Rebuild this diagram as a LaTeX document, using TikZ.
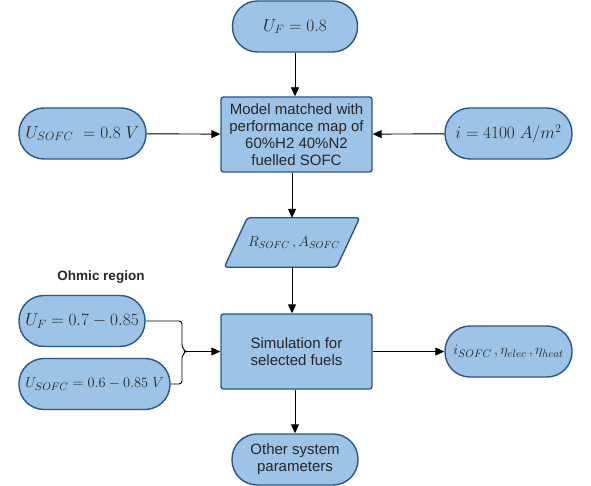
\documentclass[tikz,border=0pt]{standalone}
\usepackage{fontspec}
\setmainfont{Liberation Sans}
\usetikzlibrary{arrows.meta,calc}
\definecolor{boxfill}{HTML}{9DC3E6}
\definecolor{boxline}{HTML}{2A5783}
\definecolor{txt}{HTML}{262626}
\tikzset{
  base/.style={fill=boxfill,draw=boxline,line width=1.4pt,inner sep=0pt,align=center,
    text=txt,font=\fontsize{15}{17}\selectfont},
  mth/.style={font=\fontsize{16.5}{19}\selectfont},
  stadium/.style={base,rounded corners=25pt,minimum width=#1,minimum height=51pt},
  procbox/.style={base,rounded corners=2.5pt,minimum width=151pt,minimum height=75pt},
  arr/.style={line width=0.9pt,-{Triangle[length=9pt,width=8pt]}},
  conn/.style={line width=0.9pt},
  plain/.style={inner sep=0pt,minimum width=112pt,minimum height=49pt}
}
\begin{document}
\begin{tikzpicture}[x=1pt,y=-1pt]
\useasboundingbox (0,0) rectangle (591,486);
\node[stadium=125pt,mth] (uf) at (295,26.5) {$U_F=0.8$};
\node[procbox] (model) at (296.5,134.5) {Model matched with\\performance map of\\60\%H2 40\%N2\\fuelled SOFC};
\node[stadium=127pt,mth] (usofc) at (82.5,133.5) {$U_{SOFC}\;=0.8\;V$};
\node[stadium=127pt,mth] (iden) at (508.5,133.5) {$i=4100\;A/m^2$};
% parallelogram
\node[plain] (param) at (292,242.5) {};
\draw[base,rounded corners=3pt] ($(param.north west)+(11.5,0)$) -- ($(param.north east)+(11.5,0)$)
  -- ($(param.south east)+(-11.5,0)$) -- ($(param.south west)+(-11.5,0)$) -- cycle;
\node[font=\fontsize{14.5}{17}\selectfont,text=txt] at ([xshift=2pt]param) {$R_{SOFC}\,,A_{SOFC}$};
\node[font=\bfseries\fontsize{13.5}{16}\selectfont,text=txt] (ohm) at (101,277) {Ohmic region};
\node[stadium=126pt,mth] (uf2) at (82,321) {$U_F=0.7-0.85$};
\node[stadium=151pt,font=\fontsize{15.5}{18}\selectfont] (usofc2) at (94.5,384) {$U_{SOFC}=0.6-0.85\;V$};
\node[stadium=127pt,font=\fontsize{15.5}{18}\selectfont] (out) at (508.5,351.5) {$i_{SOFC}\,,\eta_{elec}\,,\eta_{heat}$};
\node[procbox] (sim) at (296.5,351.5) {Simulation for\\selected fuels};
\node[stadium=126pt] (other) at (295,459.5) {Other system\\parameters};
% connectors
\draw[arr] (uf) -- (uf|-model.north);
\draw[arr] (usofc) -- (model);
\draw[arr] (iden) -- (model);
\draw[arr] (model.south-|param) -- (param.north);
\draw[arr] (param.south) -- (param|-sim.north);
\draw[arr] (sim) -- (out);
\draw[arr] (sim.south-|other) -- (other);
\coordinate (tip) at (186,351.5);
\draw[conn,rounded corners=3pt] (uf2.east) -| (182,347.5) -- (tip) -- (182,355.5) |- (usofc2.east);
\draw[arr] (tip) -- (tip-|sim.west);
\end{tikzpicture}
\end{document}
